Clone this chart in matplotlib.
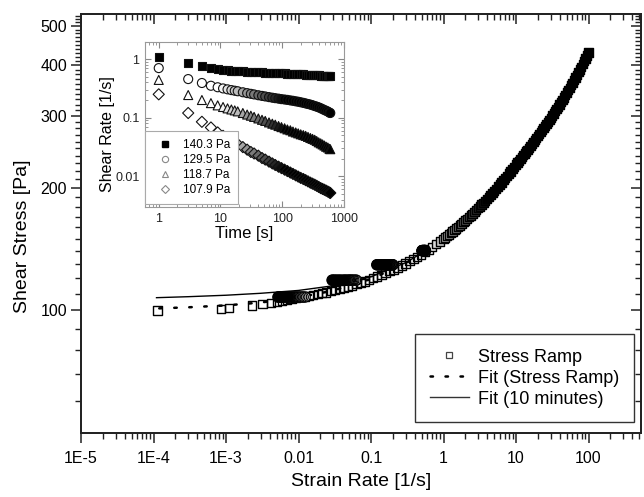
import numpy as np
import matplotlib
matplotlib.use('Agg')
import matplotlib.pyplot as plt
from matplotlib.ticker import FixedLocator, FixedFormatter, NullFormatter, LogLocator
from matplotlib.lines import Line2D

plt.rcParams['font.family'] = ['Liberation Sans', 'DejaVu Sans']

# ---------------- main plot data ----------------
ramp_rate = [1.13e-4, 8.5e-4, 1.1e-3, 2.3e-3, 3.2e-3, 4.2e-3, 5.0e-3, 5.9e-3, 6.9e-3, 8.0e-3,
             9.2e-3, 0.0106, 0.0122, 0.014, 0.016, 0.0185, 0.021, 0.024, 0.028, 0.032,
             0.037, 0.042, 0.048, 0.055, 0.063, 0.072, 0.082, 0.094, 0.107, 0.122,
             0.139, 0.158, 0.18, 0.205, 0.233, 0.265, 0.30, 0.34, 0.385, 0.435,
             0.49, 0.55, 0.62, 0.70, 0.79, 0.89,
             1.000, 1.059, 1.122, 1.189, 1.259, 1.334, 1.413, 1.496, 1.585, 1.679,
             1.778, 1.884, 1.995, 2.113, 2.239, 2.371, 2.512, 2.661, 2.818, 2.985,
             3.162, 3.350, 3.548, 3.758, 3.981, 4.217, 4.467, 4.732, 5.012, 5.309,
             5.623, 5.957, 6.310, 6.683, 7.079, 7.499, 7.943, 8.414, 8.913, 9.441,
             10.0,
             10.47, 10.96, 11.48, 12.02, 12.59, 13.18, 13.80, 14.45, 15.14, 15.85,
             16.60, 17.38, 18.20, 19.05, 19.95, 20.89, 21.88, 22.91, 23.99, 25.12,
             26.30, 27.54, 28.84, 30.20, 31.62, 33.11, 34.67, 36.31, 38.02, 39.81,
             41.69, 43.65, 45.71, 47.86, 50.12, 52.48, 54.95, 57.54, 60.26, 63.10,
             66.07, 69.18, 72.44, 75.86, 79.43, 83.18, 87.10, 91.20, 95.50, 100.0]
ramp_stress = [100.0, 100.9, 101.4, 102.9, 103.6, 104.3, 104.9, 105.4, 106.0, 106.6,
               107.2, 107.8, 108.2, 108.7, 109.2, 109.7, 110.3, 110.8, 111.5, 112.2,
               112.9, 113.6, 114.4, 115.2, 116.1, 117.0, 117.9, 119.0, 120.0, 121.1,
               122.3, 123.5, 124.8, 126.1, 127.5, 129.0, 130.5, 132.1, 133.8, 135.5,
               137.3, 139.1, 141.1, 143.2, 145.4, 147.7,
               150.0, 151.2, 152.4, 153.7, 155.0, 156.3, 157.6, 159.0, 160.4, 161.8,
               163.3, 164.8, 166.4, 168.0, 169.6, 171.2, 172.9, 174.7, 176.5, 178.3,
               180.2, 182.1, 184.0, 186.0, 188.1, 190.2, 192.4, 194.6, 196.8, 199.1,
               201.5, 203.9, 206.4, 208.9, 211.6, 214.2, 216.9, 219.7, 222.6, 225.5,
               228.5,
               230.9, 233.2, 235.7, 238.1, 240.6, 243.1, 245.7, 248.3, 251.0, 253.7,
               256.5, 259.3, 262.1, 265.0, 268.0, 271.0, 274.1, 277.3, 280.5, 283.8,
               287.1, 290.5, 294.0, 297.6, 301.3, 305.0, 308.8, 312.7, 316.7, 320.8,
               325.0, 329.3, 333.8, 338.3, 342.9, 347.7, 352.6, 357.6, 362.8, 368.1,
               373.5, 379.1, 384.8, 390.8, 396.8, 403.1, 409.5, 416.2, 423.0, 430.0]

fit_ramp_rate = [1.2e-4, 3e-4, 1e-3, 3e-3, 0.01, 0.03, 0.1, 0.3, 1, 3, 10, 20, 40, 70, 100]
fit_ramp_stress = [101.2, 101.8, 102.9, 104.6, 107.6, 111.9, 119.5, 130.5, 150.0, 178.5,
                   228.5, 268.0, 320.5, 380.5, 430.0]

fit_10min_rate = [1.1e-4, 3e-4, 1e-3, 3e-3, 0.01, 0.03, 0.1, 0.3, 1, 3, 10, 20, 40, 70, 100]
fit_10min_stress = [107.5, 108.1, 109.0, 110.2, 112.0, 115.0, 121.0, 131.0, 149.0, 177.0,
                    227.0, 266.5, 319.0, 379.0, 428.5]

# ---------------- inset (creep) data ----------------
creep_time = [1, 3, 5, 7, 9, 11, 13, 15, 17, 19, 23, 27, 31, 35, 41, 47, 53, 61, 69, 77,
              87, 97, 109, 121, 135, 149, 165, 181, 199, 219, 239, 261, 285, 309, 335, 361,
              389, 419, 449, 481, 513, 547, 581, 599]
rate_1403 = [1.07, 0.85, 0.75, 0.70, 0.67, 0.655, 0.645, 0.635, 0.63, 0.625,
             0.615, 0.61, 0.605, 0.60, 0.595, 0.59, 0.585, 0.58, 0.578, 0.575,
             0.572, 0.57, 0.567, 0.564, 0.561, 0.558, 0.555, 0.552, 0.549, 0.546,
             0.543, 0.54, 0.537, 0.534, 0.531, 0.528, 0.525, 0.522, 0.519, 0.516,
             0.513, 0.51, 0.507, 0.505]
rate_1295 = [0.70, 0.455, 0.39, 0.35, 0.33, 0.315, 0.304, 0.295, 0.288, 0.282,
             0.271, 0.262, 0.255, 0.249, 0.241, 0.235, 0.23, 0.224, 0.219, 0.215,
             0.211, 0.207, 0.204, 0.201, 0.197, 0.194, 0.19, 0.187, 0.183, 0.179,
             0.175, 0.171, 0.167, 0.163, 0.158, 0.154, 0.15, 0.145, 0.14, 0.135,
             0.131, 0.127, 0.122, 0.12]
rate_1187 = [0.44, 0.243, 0.20, 0.177, 0.162, 0.152, 0.144, 0.138, 0.133, 0.128,
             0.12, 0.113, 0.108, 0.103, 0.097, 0.092, 0.088, 0.083, 0.079, 0.076,
             0.072, 0.069, 0.066, 0.063, 0.061, 0.058, 0.056, 0.054, 0.052, 0.0505,
             0.049, 0.047, 0.045, 0.0435, 0.042, 0.040, 0.038, 0.0365, 0.035, 0.0335,
             0.032, 0.031, 0.0295, 0.029]
rate_1079 = [0.25, 0.12, 0.085, 0.068, 0.056, 0.049, 0.0445, 0.041, 0.038, 0.0355,
             0.0315, 0.0285, 0.026, 0.0245, 0.0225, 0.0205, 0.0193, 0.0178, 0.0166, 0.0156,
             0.0146, 0.0138, 0.013, 0.0123, 0.0116, 0.011, 0.0104, 0.0099, 0.0094, 0.009,
             0.0086, 0.0082, 0.0078, 0.0075, 0.0072, 0.0069, 0.0066, 0.0063, 0.0061, 0.0059,
             0.0057, 0.0055, 0.0053, 0.0052]
creep_stress = [140.3, 129.5, 118.7, 107.9]
creep_labels = ['140.3 Pa', '129.5 Pa', '118.7 Pa', '107.9 Pa']
creep_rates = [rate_1403, rate_1295, rate_1187, rate_1079]
creep_markers = ['s', 'o', '^', 'D']

legend_labels = ['Stress Ramp', 'Fit (Stress Ramp)', 'Fit (10 minutes)']

x_ticks = [1e-5, 1e-4, 1e-3, 1e-2, 1e-1, 1, 10, 100]
x_ticklabels = ['1E-5', '1E-4', '1E-3', '0.01', '0.1', '1', '10', '100']
y_ticks = [100, 200, 300, 400, 500]
y_ticklabels = ['100', '200', '300', '400', '500']
inset_x_ticks = [1, 10, 100, 1000]
inset_x_ticklabels = ['1', '10', '100', '1000']
inset_y_ticks = [0.01, 0.1, 1]
inset_y_ticklabels = ['0.01', '0.1', '1']


def shade(values, v_light, v_dark):
    """grey level imitating the darkening caused by overlapping open markers"""
    lv = np.log10(np.asarray(values, dtype=float))
    frac = np.clip((lv - np.log10(v_light)) / (np.log10(v_dark) - np.log10(v_light)), 0, 1)
    g = 1.0 - frac
    return np.column_stack([g, g, g])


# ---------------- figure ----------------
fig = plt.figure(figsize=(6.44, 4.97), dpi=100)
ax = fig.add_axes([0.1258, 0.1288, 0.8696, 0.843])
ax.set_xscale('log')
ax.set_yscale('log')
XLIM = (1e-5, 530)
YLIM = (50, 535)

ax.plot(fit_10min_rate, fit_10min_stress, '-', color='black', lw=1.0, zorder=2)
ax.plot(fit_ramp_rate, fit_ramp_stress, color='black', lw=1.8, ls=(0, (1, 5)),
        dash_capstyle='round', zorder=2)
ramp_fc = shade(ramp_rate, 0.6, 4.0)
ramp_fc = np.column_stack([ramp_fc, np.where(ramp_fc[:, 0] > 0.97, 0.0, 1.0)])
ax.scatter(ramp_rate, ramp_stress, marker='s', s=36, facecolors=ramp_fc,
           edgecolors='black', linewidths=1.0, zorder=3)

# creep data shown in main plot (late part of each creep test)
for rates, stress in zip(creep_rates, creep_stress):
    tsel = [t for t in creep_time if t >= 120]
    rsel = [r for t, r in zip(creep_time, rates) if t >= 120]
    ax.scatter(rsel, [stress] * len(rsel), marker='o', s=55,
               facecolors=shade(tsel, 170, 330), edgecolors='black', linewidths=0.8,
               zorder=4)

ax.set_xlim(*XLIM)
ax.set_ylim(*YLIM)
ax.xaxis.set_major_locator(FixedLocator(x_ticks))
ax.xaxis.set_major_formatter(FixedFormatter(x_ticklabels))
ax.xaxis.set_minor_locator(LogLocator(base=10, subs=range(2, 10), numticks=30))
ax.xaxis.set_minor_formatter(NullFormatter())
y_minor = [v for v in range(60, 540, 10) if v % 100 != 0]
ax.yaxis.set_major_locator(FixedLocator(y_ticks))
ax.yaxis.set_major_formatter(FixedFormatter(y_ticklabels))
ax.yaxis.set_minor_locator(FixedLocator(y_minor))
ax.yaxis.set_minor_formatter(NullFormatter())
ax.tick_params(axis='both', which='major', direction='out', length=7, width=1.1,
               labelsize=11.5, color='#222')
ax.tick_params(axis='both', which='minor', direction='out', length=4, width=1.0, color='#222')
ax.tick_params(axis='x', which='major', pad=6)
ax.tick_params(axis='y', which='major', pad=3)
for sp in ax.spines.values():
    sp.set_linewidth(1.1)
    sp.set_color('#222')
ax.set_xlabel('Strain Rate [1/s]', fontsize=14, labelpad=5)
ax.set_ylabel('Shear Stress [Pa]', fontsize=14)
ax.yaxis.set_label_coords(-0.089, 0.469)

leg_handles = [
    Line2D([], [], ls='none', marker='s', ms=5, mfc='none', mec='#444', mew=0.9),
    Line2D([], [], color='black', lw=1.8, ls=(0, (1, 5)), dash_capstyle='round'),
    Line2D([], [], color='#333', lw=1.0),
]
leg = ax.legend(leg_handles, legend_labels, loc='lower right',
                bbox_to_anchor=(0.9875, 0.026), borderaxespad=0, fontsize=13,
                frameon=True, fancybox=False, edgecolor='#333', framealpha=1,
                handlelength=2.2, handletextpad=0.5, labelspacing=0.22, borderpad=0.8)
leg.get_frame().set_linewidth(1.0)

# mirrored ticks pointing inward on top and right
axt = ax.twiny()
axt.set_xscale('log')
axt.set_xlim(*XLIM)
axt.xaxis.set_major_locator(FixedLocator(x_ticks))
axt.xaxis.set_minor_locator(LogLocator(base=10, subs=range(2, 10), numticks=30))
axt.xaxis.set_major_formatter(NullFormatter())
axt.xaxis.set_minor_formatter(NullFormatter())
axt.tick_params(axis='x', which='major', direction='in', length=7, width=1.1, color='#222')
axt.tick_params(axis='x', which='minor', direction='in', length=4, width=1.0, color='#222')
axr = ax.twinx()
axr.set_yscale('log')
axr.set_ylim(*YLIM)
axr.yaxis.set_major_locator(FixedLocator(y_ticks))
axr.yaxis.set_minor_locator(FixedLocator(y_minor))
axr.yaxis.set_major_formatter(NullFormatter())
axr.yaxis.set_minor_formatter(NullFormatter())
axr.tick_params(axis='y', which='major', direction='in', length=7, width=1.1, color='#222')
axr.tick_params(axis='y', which='minor', direction='in', length=4, width=1.0, color='#222')
for a in (axt, axr):
    for sp in a.spines.values():
        sp.set_linewidth(1.1)
        sp.set_color('#222')

# ---------------- inset ----------------
axin = fig.add_axes([0.2252, 0.5835, 0.309, 0.332])
axin.set_xscale('log')
axin.set_yscale('log')
for rates, mk in zip(creep_rates, creep_markers):
    if mk == 's':
        fc = 'black'
        size = 28
    else:
        fc = shade(creep_time, 10, 110)
        size = 32 if mk == 'D' else 42
    axin.scatter(creep_time, rates, marker=mk, s=size, facecolors=fc,
                 edgecolors='#111', linewidths=0.8, zorder=3)
axin.set_xlim(0.6, 1000)
axin.set_ylim(0.003, 1.95)
axin.xaxis.set_major_locator(FixedLocator(inset_x_ticks))
axin.xaxis.set_major_formatter(FixedFormatter(inset_x_ticklabels))
axin.xaxis.set_minor_locator(LogLocator(base=10, subs=range(2, 10), numticks=20))
axin.xaxis.set_minor_formatter(NullFormatter())
axin.yaxis.set_major_locator(FixedLocator(inset_y_ticks))
axin.yaxis.set_major_formatter(FixedFormatter(inset_y_ticklabels))
axin.yaxis.set_minor_locator(LogLocator(base=10, subs=range(2, 10), numticks=20))
axin.yaxis.set_minor_formatter(NullFormatter())
axin.tick_params(axis='both', which='both', direction='in', top=True, right=True,
                 color='#888', labelsize=9, labelcolor='#222')
axin.tick_params(axis='both', which='major', length=4, width=0.8, pad=4)
axin.tick_params(axis='both', which='minor', length=2, width=0.6)
for sp in axin.spines.values():
    sp.set_linewidth(0.8)
    sp.set_color('#999')
axin.set_xlabel('Time [s]', fontsize=12, labelpad=1)
axin.set_ylabel('Shear Rate [1/s]', fontsize=11.5)
axin.yaxis.set_label_coords(-0.151, 0.44)

in_handles = [
    Line2D([], [], ls='none', marker='s', ms=4, mfc='black', mec='black'),
    Line2D([], [], ls='none', marker='o', ms=4.5, mfc='white', mec='#888', mew=0.8),
    Line2D([], [], ls='none', marker='^', ms=4.5, mfc='white', mec='#888', mew=0.8),
    Line2D([], [], ls='none', marker='D', ms=4, mfc='white', mec='#888', mew=0.8),
]
inleg = axin.legend(in_handles, creep_labels, loc='lower left', bbox_to_anchor=(0, 0.018),
                    borderaxespad=0, fontsize=8.5, frameon=True, fancybox=False,
                    edgecolor='#aaa', framealpha=1, handlelength=2.0, handletextpad=0.5,
                    labelspacing=0.25, borderpad=0.7)
inleg.get_frame().set_linewidth(0.8)
inleg.set_zorder(5)

fig.savefig('out.png', dpi=100)
